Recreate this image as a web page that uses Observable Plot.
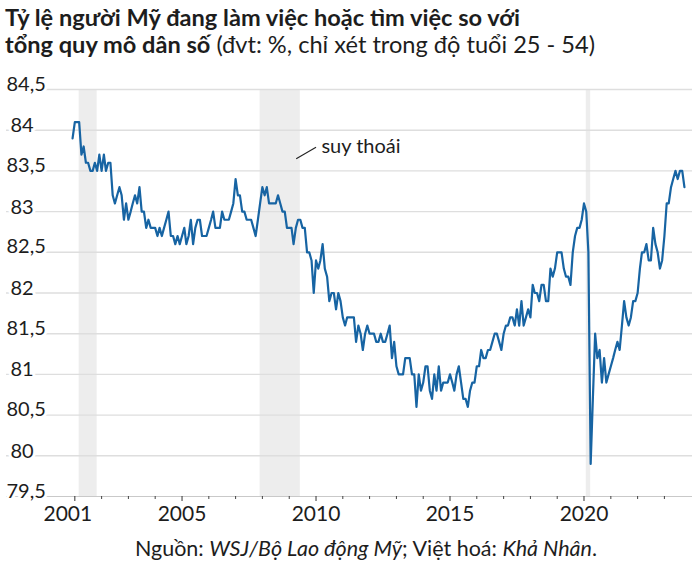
<!DOCTYPE html>
<html>
<head>
<meta charset="utf-8">
<script src="https://cdn.jsdelivr.net/npm/d3@7"></script>
<script src="https://cdn.jsdelivr.net/npm/@observablehq/plot@0.6"></script>
<style>
  html, body { margin: 0; padding: 0; background: #fff; }
  body { width: 700px; height: 564px; overflow: hidden; font-family: Lato, "Noto Sans", sans-serif; color: #1d1d1d; }
  #title { height: 62px; box-sizing: border-box; padding: 4px 0 0 5px; font-size: 23.6px; line-height: 27px; white-space: nowrap; }
  #title b { font-weight: 700; }
  #chart svg { display: block; }
  #caption { font-size: 21.5px; line-height: 28px; text-align: center; padding-left: 32px; white-space: nowrap; }
</style>
</head>
<body>
<div id="title"><b>Tỷ lệ người Mỹ đang làm việc hoặc tìm việc so với<br>tổng quy mô dân số</b> (đvt: %, chỉ xét trong độ tuổi 25 - 54)</div>
<div id="chart"></div>
<div id="caption">Nguồn: <i>WSJ/Bộ Lao động Mỹ</i>; Việt hoá: <i>Khả Nhân</i>.</div>
<script>
// ---- data (monthly, starting December 2000) ----
const startYear = 2000, startMonth = 11; // December 2000
const values = [
  83.9,
  84.1,84.1,84.1,83.7,83.8,83.6,83.6,83.5,83.5,83.6,83.5,83.7, // 2001
  83.5,83.7,83.5,83.6,83.6,83.2,83.1,83.2,83.3,83.2,82.9,83.1, // 2002
  82.9,83.0,83.1,83.2,83.1,83.3,83.0,83.0,82.8,82.9,82.8,82.8, // 2003
  82.8,82.7,82.8,82.7,82.8,82.9,83.0,82.7,82.7,82.6,82.7,82.6, // 2004
  82.7,82.8,82.6,82.7,82.9,82.6,82.8,82.9,82.9,82.7,82.7,82.7, // 2005
  82.8,82.9,83.0,82.8,82.8,82.8,83.0,82.9,82.9,82.9,83.0,83.1, // 2006
  83.4,83.2,83.2,83.0,83.0,82.9,82.9,82.9,82.8,82.7,82.9,83.1, // 2007
  83.3,83.2,83.3,83.1,83.1,83.1,83.1,83.2,83.1,83.0,83.0,82.8, // 2008
  82.8,82.8,82.6,82.8,82.9,82.9,82.8,82.8,82.5,82.5,82.4,82.0, // 2009
  82.4,82.3,82.4,82.6,82.3,82.2,81.9,82.0,82.0,81.8,82.0,81.9, // 2010
  81.7,81.6,81.7,81.7,81.7,81.7,81.4,81.6,81.5,81.3,81.5,81.6, // 2011
  81.5,81.5,81.5,81.4,81.4,81.5,81.4,81.4,81.5,81.6,81.2,81.4, // 2012
  81.1,81.0,81.0,81.0,81.2,81.2,81.2,81.0,81.0,80.6,81.0,80.8, // 2013
  80.9,81.1,81.1,80.8,80.7,81.0,80.8,81.1,80.8,80.9,80.9,80.9, // 2014
  81.0,80.9,80.8,81.0,81.1,80.9,80.7,80.7,80.6,80.8,80.9,80.9, // 2015
  81.1,81.1,81.3,81.2,81.2,81.3,81.3,81.4,81.5,81.5,81.4,81.3, // 2016
  81.5,81.6,81.6,81.7,81.7,81.6,81.8,81.6,81.9,81.6,81.7,81.8, // 2017
  81.7,82.1,82.0,82.0,81.9,82.1,82.1,81.9,81.9,82.3,82.2,82.3, // 2018
  82.5,82.5,82.5,82.3,82.2,82.2,82.1,82.5,82.7,82.8,82.8,82.9, // 2019
  83.1,83.0,82.5,79.9,80.7,81.5,81.2,81.3,80.9,81.2,80.9,81.0, // 2020
  81.1,81.2,81.3,81.4,81.3,81.6,81.9,81.7,81.6,81.7,81.9,81.9, // 2021
  82.0,82.3,82.5,82.5,82.6,82.4,82.4,82.8,82.6,82.5,82.3,82.4, // 2022
  82.7,83.1,83.1,83.3,83.4,83.5,83.4,83.5,83.5,83.3            // 2023
];
// recessions (start month, end month)
const recessions = [
  ["2001-03", "2001-11"],
  ["2007-12", "2009-06"],
  ["2020-02", "2020-04"]
];
const yTicks = [79.5, 80, 80.5, 81, 81.5, 82, 82.5, 83, 83.5, 84, 84.5];
const xTickLabels = [2001, 2005, 2010, 2015, 2020];
const yearTicks = d3.range(2001, 2024);
const annotation = { text: "suy thoái", from: [2009.26, 83.65], to: [2010.0, 83.79], label: [2010.2, 83.8] };

// ---- helpers ----
const ym = s => { const [y, m] = s.split("-").map(Number); return new Date(Date.UTC(y, m - 1, 1)); };
const yd = y => new Date(Date.UTC(Math.floor(y), 0, 1) + (y - Math.floor(y)) * 365.25 * 864e5);
const yr = y => new Date(Date.UTC(y, 0, 1));
const fmt = d => String(d).replace(".", ",");
const yearText = d => String(d.getUTCFullYear());

const data = values.map((v, i) => ({ date: new Date(Date.UTC(startYear, startMonth + i, 1)), value: v }));
const recData = recessions.map(([a, b]) => ({ x1: ym(a), x2: ym(b) }));

const width = 700, height = 472;
const marginLeft = 6, marginRight = 8, marginTop = 27, marginBottom = 38;

const chart = Plot.plot({
  width, height, marginLeft, marginRight, marginTop, marginBottom,
  style: { fontFamily: "Lato, 'Noto Sans', sans-serif", color: "#1d1d1d", background: "#fff" },
  x: { type: "utc", domain: [yd(1998.451), yd(2024.049)], axis: null },
  y: { type: "linear", domain: [79.5, 84.5], axis: null },
  marks: [
    Plot.rectX(recData, { x1: "x1", x2: "x2", y1: 79.5, y2: 84.5, fill: "#ededed" }),
    Plot.ruleY(yTicks.filter(d => d > 79.5), { stroke: "#dedede", strokeWidth: 1.4 }),
    Plot.ruleY([79.5], { stroke: "#c9c9c9", strokeWidth: 1.2 }),
    Plot.axisX(yearTicks.filter(d => !xTickLabels.includes(d)).map(yr), { tickSize: 3, tickFormat: () => "", stroke: "#444", label: null }),
    Plot.axisX(xTickLabels.map(yr), { tickSize: 5, tickFormat: () => "", stroke: "#333", label: null }),
    Plot.axisX(xTickLabels.filter(d => d !== 2001).map(yr), { tickSize: 0, tickPadding: 10, tickFormat: yearText, fontSize: 21, fill: "#1d1d1d", label: null }),
    Plot.axisX([yr(2001)], { tickSize: 0, tickPadding: 10, dx: -7, tickFormat: yearText, fontSize: 21, fill: "#1d1d1d", label: null }),
    Plot.line(data, { x: "date", y: "value", stroke: "#1764a3", strokeWidth: 2.2, strokeLinejoin: "round" }),
    Plot.text(yTicks.filter(d => !Number.isInteger(d)), { y: d => d, text: fmt, frameAnchor: "left", textAnchor: "start", dx: 0, dy: 1, lineAnchor: "bottom", fontSize: 20, fill: "#1d1d1d", stroke: "white", strokeWidth: 6 }),
    Plot.text(yTicks.filter(d => Number.isInteger(d)), { y: d => d, text: fmt, frameAnchor: "left", textAnchor: "start", dx: 4, dy: 2, lineAnchor: "bottom", fontSize: 20, fill: "#1d1d1d", stroke: "white", strokeWidth: 6 }),
    Plot.link([annotation], { x1: d => yd(d.from[0]), y1: d => d.from[1], x2: d => yd(d.to[0]), y2: d => d.to[1], stroke: "#222", strokeWidth: 1.1 }),
    Plot.text([annotation], { x: d => yd(d.label[0]), y: d => d.label[1], text: "text", textAnchor: "start", lineAnchor: "middle", fontSize: 20, fill: "#1d1d1d" })
  ]
});
document.getElementById("chart").appendChild(chart);
</script>
</body>
</html>
